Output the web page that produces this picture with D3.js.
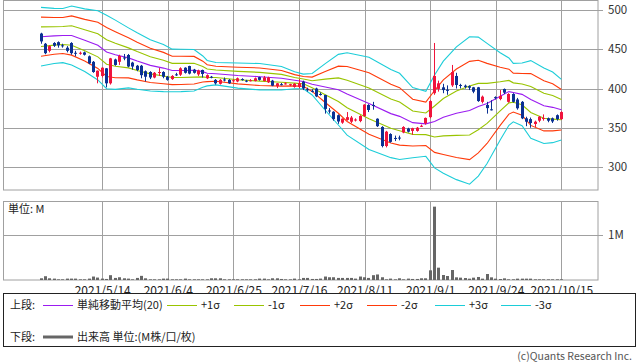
<!DOCTYPE html>
<html><head><meta charset="utf-8">
<script src="https://cdn.jsdelivr.net/npm/d3@7"></script>
<style>
html,body{margin:0;padding:0;background:#fff;}
text{font-family:"Noto Sans CJK JP","DejaVu Sans",sans-serif;}
</style>
</head><body>
<svg id="c" width="638" height="362"></svg>
<script>
// ---- data ----
const openP = [470,457,448,458,459,455,452,458,445.5,445,
446,441,434,415,416,425.7,406.6,437,434,439.5,
442.7,433,429,429,422,421,414,420,421,415,
412,418,417.6,426.5,428.6,424,418,423.6,413,415,
411,406,411.5,411,410,409,412,410,410,409.5,
414.5,409.5,408,410,403,405.5,406,405,402,402,
408.7,399,397,400,393,391.7,372,370.4,366,356.5,
360,357.7,360,358.5,365,379,379,361.5,351,326.7,
342,337,337.5,344,349,346,346,352,355.7,363.5,
394,399.5,401.5,398.5,404,416,404.5,403.6,403,401.5,
401.5,383,379,373.5,389,386.6,399.4,383,393,386,
383,362,361,354.8,359,362,362,362,366,361];
const closeP = [460,445,454,454.5,455,454.5,448,445,445,445.5,
443,432,421,422.7,426.5,406.6,438.4,430,441.4,439,
428,428,423.6,417,415,414,420,421,415,411,
416,417.5,425.7,420,419,420,423,418.5,417,414.5,
406.6,411,411,406.6,410.5,413,411.5,409.5,410.5,413,
411,414,414,403.6,406.6,405,406.5,405.5,406,407,
400,398.5,396.5,390,392.5,374,371.5,361,358,361.5,
363.5,363,360.5,365,379.5,372.6,378.5,352,326.7,345,
332,336.5,337,351,345,349.5,350,352.5,362.5,384,
416,406.6,398,397,421,404.5,404,402,401,396,
384,389.6,375,373,388.5,390.5,394.7,393,383,374.8,
362,357.7,356,357.7,364,362.5,359,358,361,370];
const highP = [471,458,455,459,460,457,454,459,448,447,
447,442,435,423,427,426,439,438,443,444,
444,434,430,430,423,422,421,426,422,416,
417,420,427,427,429,425,424,424,418,416,
412,412,414,412,412,414,413,411,412,414,
415,416,415,411,407,407,408,406,407,412,
410,401,399,401,395,392,375,371,367,362,
370,365,362,366,380,380,383,362,352,346,
343,340,340,352,350,350,351,354,363,385,
458,410,406,404,430,420,406,405,404,402,
402,391,383,385,390,398,400,394,394,388,
384,364,363,359,365,367,363,363,367,371];
const lowP = [457,443.6,446,453,452,452,446,443,441,443,
442,431,420,406.6,414,401.5,405,429,430,436,
427,424,422,413,409,412,413,416,413,410,
411,416,416,419,418,419,416,414,412,413,
405,405,409,406,408,408,410,408,409,409,
410,409,407,403,400.5,404,405,403,401,400,
398,396,395,389,391,368,368,359,355,355,
359,356,358,357,364,370,373,351,325,325,
331,333,334,343,344,341,345,351,354,362,
392,396,394,392,402,400,400,400,398,394,
383,381,368,372,386,385,393,382,382,373,
361,352,350,351,357,359,357,356,359,360];
// volume in thousands of shares
const volume = [38,84,38,31,15,15,31,31,31,15,
15,31,77,54,31,23,107,46,61,38,
31,15,46,92,38,15,15,15,31,31,
15,15,15,31,15,15,15,15,15,38,
38,38,15,15,15,15,15,15,15,15,
31,31,15,38,38,23,15,15,31,15,
46,46,23,23,31,77,61,61,46,46,
46,46,31,77,61,46,107,123,61,15,
31,15,38,15,31,23,23,38,38,215,
1630,274,111,89,222,59,52,44,30,52,
67,30,133,59,30,22,37,15,15,30,
30,30,30,15,15,15,15,15,15,15];
// Bollinger band readings (20-day SMA and sigma) at given day indices
const bandIdx = [0,3,5,7,10,13,15,17,20,22,25,28,30,32,35,37,38,40,45,50,55,58,60,62,65,68,70,75,80,82,85,88,90,92,95,98,100,102,105,107,108,110,112,115,117,119];
const sma20 = [466,467,467.5,467.5,461.5,455,446.5,443,439,435,429.5,426,423,423,423.3,421.5,419.5,418.8,416.5,415,413,410.5,409,405.4,402,398.5,393,381,368,364.5,356.5,355,358,363.5,368.5,372,377,381,390,396,394.8,392.5,386,378,376,373];
const sigma = [12.45,11.7,11.5,12.5,13.3,14.7,15.6,14.7,12.75,12,10.9,10,9.05,9,8.8,6.65,5.4,4.75,5.33,5.6,5,3.6,3.1,4.55,9.9,15,17.5,19.6,18.7,18.3,14.9,13.8,19.7,23.8,28.2,31.3,29.5,25.5,18.5,14.3,12.4,13.3,16.5,16,15,12.9];
const dateTickIdx = [14,29,44,59,74,89,104,119];
const dateTickLabels = ["2021/5/14","2021/6/4","2021/6/25","2021/7/16","2021/8/11","2021/9/1","2021/9/24","2021/10/15"];
const priceTicks = [300,350,400,450,500];
const volTicks = [1000];
const bandDefs = [
  {k:0, color:"#9b1cf0", label:"単純移動平均(20)"},
  {k:1, color:"#99c400", label:"+1σ"},
  {k:-1, color:"#99c400", label:"-1σ"},
  {k:2, color:"#ff3a0a", label:"+2σ"},
  {k:-2, color:"#ff3a0a", label:"-2σ"},
  {k:3, color:"#1ccdd8", label:"+3σ"},
  {k:-3, color:"#1ccdd8", label:"-3σ"}
];

// ---- layout ----
const L=3, R=598, T=0.5, B=190, VT=201.5, VB=280;
const svg = d3.select("#c");
const n = openP.length;
const x = d3.scaleLinear().domain([0, n-1]).range([41, 561.4]);
const y = d3.scaleLinear().domain([300,500]).range([167,10]);
const yv = d3.scaleLinear().domain([0,1000]).range([VB,235]);
const gridC = "#a0a0a0";
const upC = "#f0143c", dnC = "#0b3193";

// frames
svg.append("rect").attr("x",L+0.5).attr("y",T).attr("width",R-L-0.5).attr("height",B-T)
  .attr("fill","none").attr("stroke",gridC).attr("stroke-width",1);
svg.append("rect").attr("x",L+0.5).attr("y",VT).attr("width",R-L-0.5).attr("height",VB-VT)
  .attr("fill","none").attr("stroke",gridC).attr("stroke-width",1);

// price axis (right) with grid
const pAxis = svg.append("g").attr("transform",`translate(${R},0)`)
  .call(d3.axisRight(y).tickValues(priceTicks).tickSize(5).tickPadding(5));
pAxis.select(".domain").remove();
pAxis.selectAll("line").attr("stroke",gridC).attr("shape-rendering","crispEdges");
pAxis.selectAll("text").attr("fill","#333").style("font-size","11.5px").style("font-family","'Noto Sans CJK JP'");
const pGrid = svg.append("g").attr("transform",`translate(${R},0)`)
  .call(d3.axisLeft(y).tickValues(priceTicks).tickSize(R-L).tickFormat(""));
pGrid.select(".domain").remove();
pGrid.selectAll("line").attr("stroke",gridC).attr("shape-rendering","crispEdges");

// volume axis
const vAxis = svg.append("g").attr("transform",`translate(${R},0)`)
  .call(d3.axisRight(yv).tickValues(volTicks).tickSize(5).tickPadding(5).tickFormat(d=>(d/1000)+"M"));
vAxis.select(".domain").remove();
vAxis.selectAll("line").attr("stroke",gridC).attr("shape-rendering","crispEdges");
vAxis.selectAll("text").attr("fill","#333").style("font-size","11.5px");
const vGrid = svg.append("g").attr("transform",`translate(${R},0)`)
  .call(d3.axisLeft(yv).tickValues(volTicks).tickSize(R-L).tickFormat(""));
vGrid.select(".domain").remove();
vGrid.selectAll("line").attr("stroke",gridC).attr("shape-rendering","crispEdges");

// vertical grid lines in both panels
[[T,B],[VT,VB]].forEach(([a,b])=>{
  const g = svg.append("g").attr("transform",`translate(0,${b})`)
    .call(d3.axisBottom(x).tickValues(dateTickIdx).tickSize(-(b-a)).tickFormat(""));
  g.select(".domain").remove();
  g.selectAll("line").attr("stroke",gridC).attr("shape-rendering","crispEdges");
});

// date axis labels
const dAxis = svg.append("g").attr("transform",`translate(0,${VB})`)
  .call(d3.axisBottom(x).tickValues(dateTickIdx).tickSize(0).tickPadding(6)
    .tickFormat((d,i)=>dateTickLabels[i]));
dAxis.select(".domain").remove();
dAxis.selectAll("text").attr("fill","#222").style("font-size","12px");

// Bollinger bands
bandDefs.forEach(bd=>{
  const line = d3.line().x((d,i)=>x(bandIdx[i])).y((d,i)=>y(sma20[i]+bd.k*sigma[i]));
  svg.append("path").datum(sma20).attr("d",line).attr("fill","none")
    .attr("stroke",bd.color).attr("stroke-width",1.1);
});

// candles
const bw = 3;
const cg = svg.append("g");
d3.range(n).forEach(i=>{
  const up = closeP[i] >= openP[i];
  const col = up ? upC : dnC;
  const left = Math.round(x(i) - bw/2);
  const cx = left + bw/2;
  cg.append("line").attr("x1",cx).attr("x2",cx).attr("y1",y(highP[i])).attr("y2",y(lowP[i]))
    .attr("stroke",col).attr("stroke-width",1);
  const top = y(Math.max(openP[i],closeP[i]));
  const h = Math.max(1, Math.abs(y(openP[i])-y(closeP[i])));
  cg.append("rect").attr("x",left).attr("y",top).attr("width",bw).attr("height",h).attr("fill",col);
});

// volume bars
svg.append("g").selectAll("rect").data(volume).join("rect")
  .attr("x",(d,i)=>Math.round(x(i)-1.5)).attr("width",3)
  .attr("y",d=>yv(d)).attr("height",d=>VB-yv(d)).attr("fill","#666");

svg.append("text").attr("x",8).attr("y",213).text("単位: M").style("font-size","11px").attr("fill","#222");

// legend
svg.append("rect").attr("x",3.5).attr("y",293.5).attr("width",632).attr("height",53)
  .attr("fill","#fff").attr("stroke","#222").attr("stroke-width",1);
const lg = svg.append("g").style("font-size","11px").attr("fill","#222");
lg.append("text").attr("x",10).attr("y",309).text("上段:");
const legX = [43,167,234,300,367,435,501];
bandDefs.forEach((bd,i)=>{
  lg.append("line").attr("x1",legX[i]).attr("x2",legX[i]+30).attr("y1",305.5).attr("y2",305.5)
    .attr("stroke",bd.color).attr("stroke-width",1);
  lg.append("text").attr("x",legX[i]+34).attr("y",309).text(bd.label);
});
lg.append("text").attr("x",10).attr("y",341).text("下段:");
lg.append("line").attr("x1",43).attr("x2",73).attr("y1",337).attr("y2",337).attr("stroke","#666").attr("stroke-width",3);
lg.append("text").attr("x",77).attr("y",341).text("出来高 単位:(M株/口/枚)");

svg.append("text").attr("x",632).attr("y",360).attr("text-anchor","end")
  .text("(c)Quants Research Inc.").style("font-size","10.5px").attr("fill","#555");
</script>
</body></html>
